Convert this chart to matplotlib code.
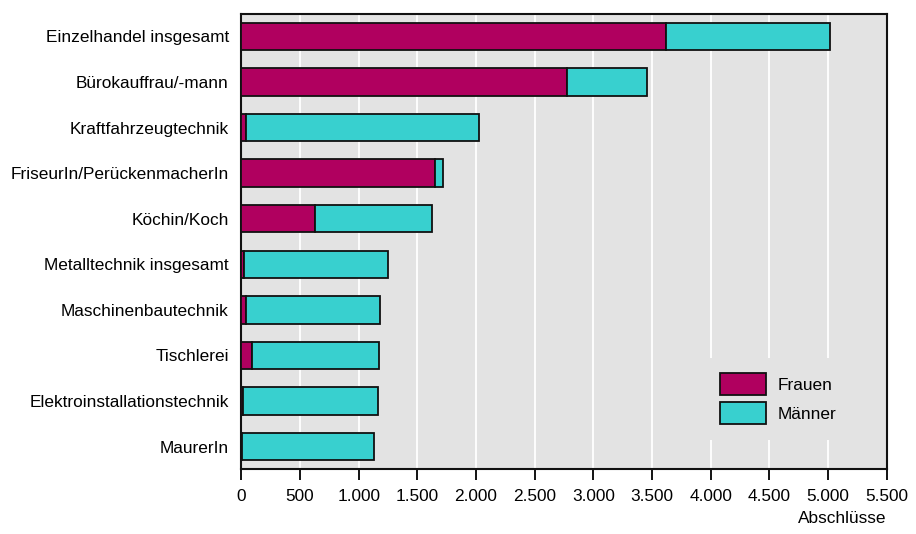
import numpy as np
import matplotlib.pyplot as plt

plt.rcParams['font.family'] = ['Liberation Sans', 'DejaVu Sans']

# Ausbildungsberufe, von oben nach unten
berufe = ['Einzelhandel insgesamt', 'Bürokauffrau/-mann', 'Kraftfahrzeugtechnik',
          'FriseurIn/PerückenmacherIn', 'Köchin/Koch', 'Metalltechnik insgesamt',
          'Maschinenbautechnik', 'Tischlerei', 'Elektroinstallationstechnik', 'MaurerIn']
frauen = [3616, 2775, 37, 1653, 627, 22, 44, 89, 18, 7]
gesamt = [5018, 3458, 2022, 1723, 1627, 1251, 1181, 1170, 1168, 1133]
maenner = [g - f for g, f in zip(gesamt, frauen)]

xticks = np.arange(0, 5501, 500)
xticklabels = ['0', '500', '1.000', '1.500', '2.000', '2.500', '3.000',
               '3.500', '4.000', '4.500', '5.000', '5.500']

col_f = '#b0005f'
col_m = '#38d0cf'
fs = 12.4

fig = plt.figure(figsize=(9.16, 5.34), dpi=100)
ax = fig.add_axes([0.2634, 0.1208, 0.9681 - 0.2634, 0.9747 - 0.1208])
ax.set_facecolor('#e3e3e3')

y = np.arange(len(berufe))
ax.barh(y, frauen, height=0.6, color=col_f, edgecolor='#111111', linewidth=1.3,
        label='Frauen', zorder=3)
ax.barh(y, maenner, left=frauen, height=0.6, color=col_m, edgecolor='#111111',
        linewidth=1.3, label='Männer', zorder=3)

ax.set_ylim(len(berufe) - 0.5, -0.5)
ax.set_xlim(0, 5500)
ax.set_yticks(y)
ax.set_yticklabels(berufe, fontsize=fs)
ax.set_xticks(xticks)
ax.set_xticklabels(xticklabels, fontsize=fs)
ax.tick_params(axis='y', length=0, pad=9)
ax.tick_params(axis='x', length=8, width=1.3, pad=6)

ax.grid(axis='x', color='white', linewidth=1.3, zorder=1)
ax.set_axisbelow(True)
for s in ax.spines.values():
    s.set_linewidth(1.5)
    s.set_color('#111111')

ax.set_xlabel('Abschlüsse', fontsize=fs, loc='right', labelpad=5)

leg = ax.legend(loc='lower right', bbox_to_anchor=(0.96, 0.046), fontsize=fs,
                frameon=True, facecolor='#e3e3e3', edgecolor='none', framealpha=1,
                handlelength=2.7, handleheight=1.58, labelspacing=0.43,
                handletextpad=0.7, borderpad=0.9)
for p in leg.get_patches():
    p.set_linewidth(1.3)

fig.savefig('out.png', dpi=100)
